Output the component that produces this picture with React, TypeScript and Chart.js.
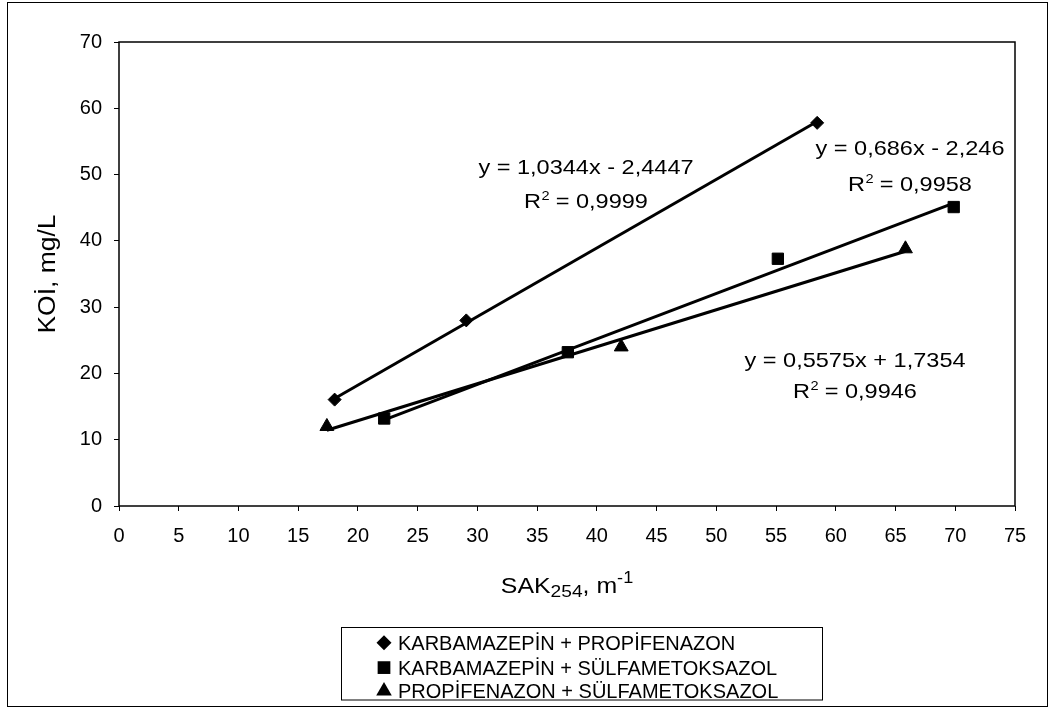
import React, { useEffect, useRef } from 'react';
import { Chart, registerables } from 'chart.js';

Chart.register(...registerables);

// ---- data ----
const kpX = [18.05, 29.07, 58.44];
const kpY = [16.05, 28.0, 57.8];
const ksX = [22.2, 37.57, 55.15, 69.87];
const ksY = [13.2, 23.2, 37.3, 45.1];
const psX = [17.4, 42.04, 65.83];
const psY = [12.0, 24.0, 38.8];

const seriesNames = [
  'KARBAMAZEPİN + PROPİFENAZON',
  'KARBAMAZEPİN + SÜLFAMETOKSAZOL',
  'PROPİFENAZON + SÜLFAMETOKSAZOL',
];
const slopes = [1.0344, 0.686, 0.5575];
const intercepts = [-2.4447, -2.246, 1.7354];
const eqLabels = ['y = 1,0344x - 2,4447', 'y = 0,686x - 2,246', 'y = 0,5575x + 1,7354'];
const r2Labels = ['0,9999', '0,9958', '0,9946'];

const xMin = 0, xMax = 75, xStep = 5;
const yMin = 0, yMax = 70, yStep = 10;
const yTitle = 'KOİ, mg/L';
const xTitleMain = 'SAK';
const xTitleSub = '254';
const xTitleMid = ', m';
const xTitleSup = '-1';

// label anchors (data units) for the trendline equations
const eqAnchorX = [39.09, 66.21, 61.61];
const eqAnchorY1 = [50.04, 52.95, 21.01];
const eqAnchorY2 = [44.91, 47.56, 16.25];

const pointStyles = ['rectRot', 'rect', 'triangle'];
const FONT = "'Liberation Sans', Arial, sans-serif";

const xsAll = [kpX, ksX, psX];
const ysAll = [kpY, ksY, psY];

function trend(xs: number[], m: number, b: number) {
  const a = Math.min(...xs);
  const c = Math.max(...xs);
  return [
    { x: a, y: m * a + b },
    { x: c, y: m * c + b },
  ];
}

function drawMarker(ctx: CanvasRenderingContext2D, style: string, x: number, y: number, r: number) {
  ctx.beginPath();
  if (style === 'rectRot') {
    ctx.moveTo(x - r, y);
    ctx.lineTo(x, y - r);
    ctx.lineTo(x + r, y);
    ctx.lineTo(x, y + r);
  } else if (style === 'rect') {
    const s = r * Math.SQRT1_2;
    ctx.rect(x - s, y - s, 2 * s, 2 * s);
  } else {
    const h = r * 0.866;
    ctx.moveTo(x, y - r * 0.95);
    ctx.lineTo(x + h, y + r * 0.55);
    ctx.lineTo(x - h, y + r * 0.55);
  }
  ctx.closePath();
  ctx.fill();
}

// draws text stretched horizontally by sx; returns drawn width
function stretched(ctx: CanvasRenderingContext2D, text: string, x: number, y: number, size: number, sx: number, draw = true) {
  ctx.font = `${size}px ${FONT}`;
  const w = ctx.measureText(text).width * sx;
  if (draw) {
    ctx.save();
    ctx.translate(x, y);
    ctx.scale(sx, 1);
    ctx.fillText(text, 0, 0);
    ctx.restore();
  }
  return w;
}

const customPlugin = {
  id: 'customDecor',
  afterDraw(chart: any) {
    const ctx: CanvasRenderingContext2D = chart.ctx;
    const { left, right, top, bottom } = chart.chartArea;
    const xs = chart.scales.x;
    const ys = chart.scales.y;
    ctx.save();
    ctx.fillStyle = '#000';
    ctx.strokeStyle = '#000';

    // plot frame
    ctx.lineWidth = 1.5;
    ctx.strokeRect(left, top, right - left, bottom - top);

    // outer frame
    ctx.lineWidth = 1;
    ctx.strokeRect(7.5, 2.5, 1040, 704);

    ctx.textBaseline = 'alphabetic';
    ctx.textAlign = 'left';

    // trendline equations
    const EQ = 21, SUP = 13, SX = 1.12;
    for (let i = 0; i < eqLabels.length; i++) {
      const cx = xs.getPixelForValue(eqAnchorX[i]);
      const b1 = ys.getPixelForValue(eqAnchorY1[i]);
      const b2 = ys.getPixelForValue(eqAnchorY2[i]);
      const w1 = stretched(ctx, eqLabels[i], 0, 0, EQ, SX, false);
      stretched(ctx, eqLabels[i], cx - w1 / 2, b1, EQ, SX);
      const rest = ' = ' + r2Labels[i];
      const wR = stretched(ctx, 'R', 0, 0, EQ, SX, false);
      const wS = stretched(ctx, '2', 0, 0, SUP, SX, false);
      const wRest = stretched(ctx, rest, 0, 0, EQ, SX, false);
      const x0 = cx - (wR + wS + wRest) / 2;
      stretched(ctx, 'R', x0, b2, EQ, SX);
      stretched(ctx, '2', x0 + wR + 0.5, b2 - 8, SUP, SX);
      stretched(ctx, rest, x0 + wR + wS, b2, EQ, SX);
    }

    // x axis title with subscript / superscript
    {
      const TS = 1.13;
      const wA = stretched(ctx, xTitleMain, 0, 0, 22, TS, false);
      const wB = stretched(ctx, xTitleSub, 0, 0, 17, TS, false);
      const wC = stretched(ctx, xTitleMid, 0, 0, 22, TS, false);
      const wD = stretched(ctx, xTitleSup, 0, 0, 16, TS, false);
      const total = wA + wB + wC + wD;
      const cx = (left + right) / 2;
      const base = 593;
      const x0 = cx - total / 2;
      stretched(ctx, xTitleMain, x0, base, 22, TS);
      stretched(ctx, xTitleSub, x0 + wA, base + 4, 17, TS);
      stretched(ctx, xTitleMid, x0 + wA + wB, base, 22, TS);
      stretched(ctx, xTitleSup, x0 + wA + wB + wC, base - 10, 16, TS);
    }

    // y axis title
    {
      ctx.save();
      ctx.translate(55, (top + bottom) / 2);
      ctx.rotate(-Math.PI / 2);
      const w = stretched(ctx, yTitle, 0, 0, 23, 1.15, false);
      stretched(ctx, yTitle, -w / 2, 0, 23, 1.15);
      ctx.restore();
    }

    // legend
    {
      ctx.lineWidth = 1;
      ctx.strokeRect(341.5, 627.5, 481, 72.5);
      ctx.font = `20px ${FONT}`;
      ctx.textAlign = 'left';
      const rows = [642.8, 667.6, 690.5];
      const mr = [7.5, 9, 9];
      for (let i = 0; i < seriesNames.length; i++) {
        drawMarker(ctx, pointStyles[i], 384, rows[i], mr[i]);
        ctx.fillText(seriesNames[i], 398, rows[i] + 7.2);
      }
    }
    ctx.restore();
  },
};

export default function App() {
  const ref = useRef<HTMLCanvasElement | null>(null);

  useEffect(() => {
    document.body.style.margin = '0';
    const canvas = ref.current;
    if (!canvas) return;

    const markerSets = xsAll.map((xs, i) => ({
      type: 'scatter' as const,
      label: seriesNames[i],
      data: xs.map((x, j) => ({ x, y: ysAll[i][j] })),
      pointStyle: pointStyles[i],
      pointRadius: i === 0 ? 6.5 : 8,
      backgroundColor: '#000',
      borderColor: '#000',
      borderWidth: 1,
      showLine: false,
      order: 0,
    }));
    const trendSets = xsAll.map((xs, i) => ({
      type: 'line' as const,
      label: 'trend' + i,
      data: trend(xs, slopes[i], intercepts[i]),
      borderColor: '#000',
      borderWidth: 3,
      pointRadius: 0,
      fill: false,
      showLine: true,
      order: 1,
    }));

    const chart = new Chart(canvas, {
      type: 'scatter',
      data: { datasets: [...trendSets, ...markerSets] as any },
      options: {
        animation: false,
        responsive: false,
        devicePixelRatio: 1,
        layout: { padding: { left: 0, top: 42, right: 41, bottom: 0 } },
        plugins: { legend: { display: false }, tooltip: { enabled: false } },
        font: { family: FONT },
        scales: {
          x: {
            type: 'linear',
            min: xMin,
            max: xMax,
            ticks: { stepSize: xStep, color: '#000', font: { size: 20, family: FONT }, padding: 13, maxRotation: 0, autoSkip: false },
            grid: { display: true, drawOnChartArea: false, drawTicks: true, tickLength: 5, color: '#000', lineWidth: 1 },
            border: { display: false },
            afterFit: (s: any) => { s.height = 205; },
          },
          y: {
            type: 'linear',
            min: yMin,
            max: yMax,
            ticks: { stepSize: yStep, color: '#000', font: { size: 20, family: FONT }, padding: 12 },
            grid: { display: true, drawOnChartArea: false, drawTicks: true, tickLength: 5, color: '#000', lineWidth: 1 },
            border: { display: false },
            afterFit: (s: any) => { s.width = 119; },
          },
        },
      } as any,
      plugins: [customPlugin],
    });
    return () => chart.destroy();
  }, []);

  return (
    <div style={{ width: 1056, height: 711, position: 'relative', background: '#fff' }}>
      <canvas ref={ref} width={1056} height={711} style={{ display: 'block', width: 1056, height: 711 }} />
    </div>
  );
}
